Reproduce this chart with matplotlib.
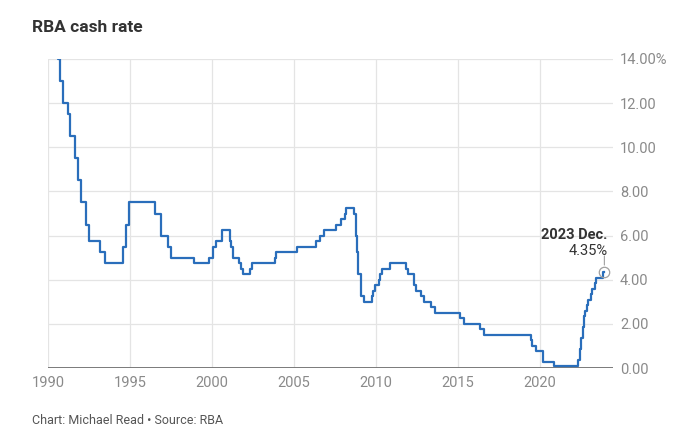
import matplotlib
matplotlib.use("Agg")
import matplotlib.pyplot as plt
import matplotlib.dates as mdates
import pandas as pd

# RBA cash rate target, month of each change and the new rate (%)
change_months = ['1990-01', '1990-02', '1990-04', '1990-08', '1990-10', '1990-12',
                 '1991-04', '1991-05', '1991-09', '1991-11', '1992-01', '1992-05',
                 '1992-07', '1993-03', '1993-07', '1994-08', '1994-10', '1994-12',
                 '1996-07', '1996-12', '1997-05', '1997-07', '1998-12', '1999-11',
                 '2000-02', '2000-04', '2000-08', '2001-02', '2001-03', '2001-04',
                 '2001-09', '2001-10', '2001-12', '2002-05', '2002-06', '2003-11',
                 '2003-12', '2005-03', '2006-05', '2006-08', '2006-11', '2007-08',
                 '2007-11', '2008-02', '2008-03', '2008-09', '2008-10', '2008-11',
                 '2008-12', '2009-02', '2009-04', '2009-10', '2009-11', '2009-12',
                 '2010-03', '2010-04', '2010-05', '2010-11', '2011-11', '2011-12',
                 '2012-05', '2012-06', '2012-10', '2012-12', '2013-05', '2013-08',
                 '2015-02', '2015-05', '2016-05', '2016-08', '2019-06', '2019-07',
                 '2019-10', '2020-03', '2020-11', '2022-05', '2022-06', '2022-07',
                 '2022-08', '2022-09', '2022-10', '2022-11', '2022-12', '2023-02',
                 '2023-03', '2023-05', '2023-06', '2023-11', '2023-12']
rates = [17.5, 16.75, 15.25, 14.0, 13.0, 12.0,
         11.5, 10.5, 9.5, 8.5, 7.5, 6.5,
         5.75, 5.25, 4.75, 5.5, 6.5, 7.5,
         7.0, 6.0, 5.5, 5.0, 4.75, 5.0,
         5.5, 5.75, 6.25, 5.75, 5.5, 5.0,
         4.75, 4.5, 4.25, 4.5, 4.75, 5.0,
         5.25, 5.5, 5.75, 6.0, 6.25, 6.5,
         6.75, 7.0, 7.25, 7.0, 6.0, 5.25,
         4.25, 3.25, 3.0, 3.25, 3.5, 3.75,
         4.0, 4.25, 4.5, 4.75, 4.5, 4.25,
         3.75, 3.5, 3.25, 3.0, 2.75, 2.5,
         2.25, 2.0, 1.75, 1.5, 1.25, 1.0,
         0.75, 0.25, 0.1, 0.35, 0.85, 1.35,
         1.85, 2.35, 2.6, 2.85, 3.1, 3.35,
         3.6, 3.85, 4.1, 4.35, 4.35]

year_ticks = [1990, 1995, 2000, 2005, 2010, 2015, 2020]
rate_ticks = [0, 2, 4, 6, 8, 10, 12, 14]
rate_labels = ['0.00', '2.00', '4.00', '6.00', '8.00', '10.00', '12.00', '14.00%']

last_label = '2023 Dec.'
last_value = '4.35%'

plt.rcParams['font.family'] = ['Roboto', 'DejaVu Sans']

dates = pd.to_datetime(change_months)

fig = plt.figure(figsize=(6.82, 4.46), dpi=100)
ax = fig.add_axes([48 / 682, 1 - 368 / 446, (613 - 48) / 682, (368 - 59) / 446])

ax.step(dates, rates, where='post', color='#2a6ebb', lw=1.6, zorder=3)

# end point marker and label
ax.plot([dates[-1]], [rates[-1]], marker='o', ms=7.5, mfc='none', mec='#a0a0a0',
        mew=0.9, zorder=4, clip_on=False)
ax.annotate('', xy=(dates[-1], rates[-1]), xytext=(0, 16), textcoords='offset pixels',
            arrowprops=dict(arrowstyle='-', color='#a0a0a0', lw=0.8, shrinkA=0, shrinkB=5))
ax.annotate(last_value, xy=(dates[-1], rates[-1]), xytext=(3, 21), textcoords='offset pixels',
            ha='right', va='center', fontsize=10.5, color='#333333')
ax.annotate(last_label, xy=(dates[-1], rates[-1]), xytext=(3, 37), textcoords='offset pixels',
            ha='right', va='center', fontsize=10.5, fontweight='bold', color='#333333')

ax.set_xlim(pd.Timestamp('1990-01-01'), pd.Timestamp('2024-06-10'))
ax.set_ylim(0, 14)

ax.set_xticks([pd.Timestamp(f'{y}-01-01') for y in year_ticks])
ax.xaxis.set_major_formatter(mdates.DateFormatter('%Y'))
ax.set_yticks(rate_ticks)
ax.set_yticklabels(rate_labels)
ax.yaxis.tick_right()
ax.tick_params(axis='both', length=0, labelsize=10.5, labelcolor='#8a8a8a')
ax.tick_params(axis='x', pad=6)
ax.tick_params(axis='y', pad=5)

ax.grid(True, color='#e4e4e4', lw=0.9, zorder=0)
for s in ax.spines.values():
    s.set_visible(False)
ax.axhline(0, color='#707070', lw=1.3, zorder=2)

fig.text(32 / 682, 1 - 28 / 446, 'RBA cash rate', fontsize=12.5, fontweight='bold',
         color='#333333', ha='left', va='center')
fig.text(32 / 682, 1 - 421 / 446, 'Chart: Michael Read \u2022 Source: RBA', fontsize=9,
         color='#555555', ha='left', va='center')

fig.savefig('out.png', dpi=100)
